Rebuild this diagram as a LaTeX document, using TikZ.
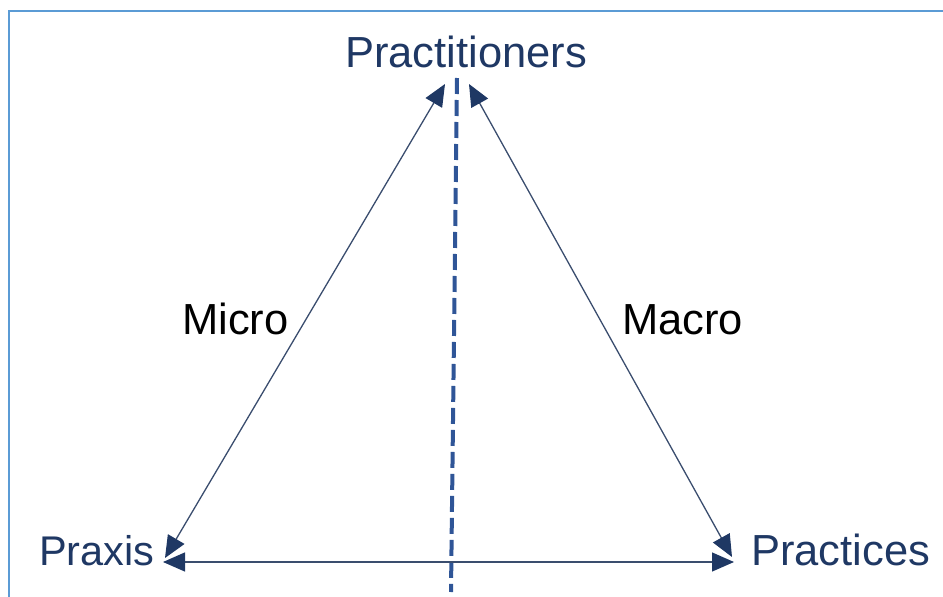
\documentclass[tikz,border=0pt]{standalone}
\usepackage{fontspec}
\setmainfont{Liberation Sans}
\usetikzlibrary{arrows.meta}
\definecolor{navy}{HTML}{1F3864}
\definecolor{frameblue}{HTML}{5B9BD5}
\definecolor{dashblue}{HTML}{2F5597}
\definecolor{arrowline}{HTML}{3A4D6E}
\tikzset{
  lbl/.style={inner sep=0pt, anchor=base west, font=\fontsize{43.5}{50}\selectfont},
  navylbl/.style={lbl, text=navy},
  blacklbl/.style={lbl, text=black},
  headtip/.style={},
  dblarrow/.style={draw=arrowline, line width=1.3pt,
    {Triangle[length=22pt,width=19pt,fill=navy,color=navy]}-{Triangle[length=22pt,width=19pt,fill=navy,color=navy]}},
  divider/.style={draw=dashblue, line width=4pt, dash pattern=on 16pt off 6pt}
}
\begin{document}
\begin{tikzpicture}[x=1pt,y=-1pt]
\useasboundingbox (0,0) rectangle (943,597);
% frame
\draw[frameblue, line width=2.6pt] (9,600) -- (9,11) -- (946,11);
% labels
\node[navylbl] (practitioners) at (345,67.5) {Practitioners};
\node[blacklbl] (micro) at (182,334) {Micro};
\node[blacklbl] (macro) at (622,334) {Macro};
\node[navylbl, font=\fontsize{41.5}{50}\selectfont] (praxis) at (39,565) {Praxis};
\node[navylbl] (practices) at (751,565) {Practices};
% arrow end points
\coordinate (topL) at (445,84);
\coordinate (topR) at (469,84);
\coordinate (botL) at (165,558);
\coordinate (botR) at (732,557);
\coordinate (horL) at (163,562);
\coordinate (horR) at (734,562);
\coordinate (dashT) at (457,78);
\coordinate (dashB) at (451,592);
% connectors
\draw[divider] (dashT) -- (dashB);
\draw[dblarrow] (topL) -- (botL);
\draw[dblarrow] (topR) -- (botR);
\draw[dblarrow] (horL) -- (horR);
\end{tikzpicture}
\end{document}
